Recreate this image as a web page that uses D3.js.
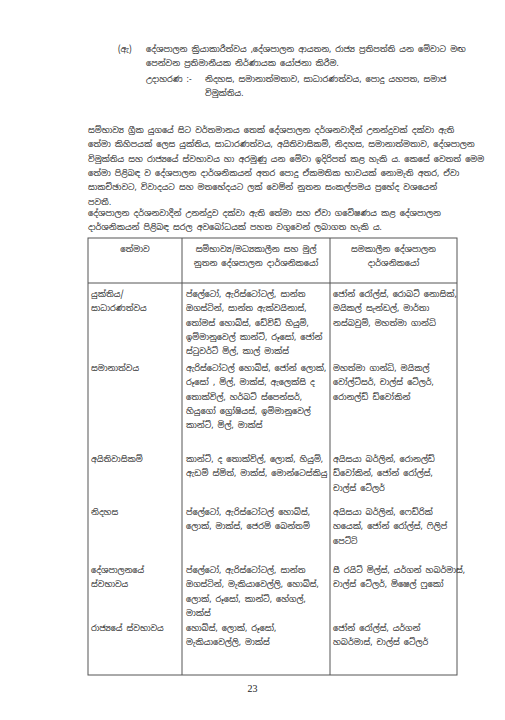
<!DOCTYPE html>
<html>
<head>
<meta charset="utf-8">
<script src="https://cdn.jsdelivr.net/npm/d3@7"></script>
<style>
  body { margin: 0; background: #fff; }
  text { font-family: "Noto Sans Sinhala", "Iskoola Pota", "Noto Sans", "DejaVu Sans", sans-serif; font-size: 8.2px; fill: #222; }
</style>
</head>
<body>
<svg id="page"></svg>
<script>
const introLines = [
  "දේශපාලන ක්‍රියාකාරීත්වය ,දේශපාලන ආයතන, රාජ්‍ය ප්‍රතිපත්ති යන මේවාට මඟ",
  "පෙන්වන ප්‍රතිමානීයක නිර්ණායක යෝජනා කිරීම."
];
const exampleLines = [
  "නිදහස, සමානාත්මතාව, සාධාරණත්වය, පොදු යහපත, සමාජ",
  "විමුක්තිය."
];
const para1 = [
  "සම්භාව්‍ය ග්‍රීක යුගයේ සිට වර්තමානය තෙක් දේශපාලන දර්ශනවාදීන් උනන්දුවක් දක්වා ඇති",
  "තේමා කිහිපයක් ලෙස යුක්තිය, සාධාරණත්වය, අයිතිවාසිකම්, නිදහස, සමානාත්මතාව, දේශපාලන",
  "විමුක්තිය සහ රාජ්‍යයේ ස්වභාවය හා අරමුණු යන මේවා ඉදිරිපත් කළ හැකි ය. කෙසේ වෙතත් මෙම",
  "තේමා පිළිබඳ ව දේශපාලන දාර්ශනිකයන් අතර පොදු ඒකමතික භාවයක් නොමැති අතර, ඒවා",
  "සාකච්ඡාවට, විවාදයට සහ මතභේදයට ලක් වෙමින් නූතන සංකල්පමය ප්‍රභේද වශයෙන්",
  "පවතී."
];
const para2 = [
  "දේශපාලන දර්ශනවාදීන් උනන්දුව දක්වා ඇති තේමා සහ ඒවා ගවේෂණය කළ දේශපාලන",
  "දාර්ශනිකයන් පිළිබඳ සරල අවබෝධයක් පහත වගුවෙන් ලබාගත හැකි ය."
];
const headers = [
  ["තේමාව"],
  ["සම්භාව්‍ය/මධ්‍යකාලීන සහ මුල්", "නූතන දේශපාලන දාර්ශනිකයෝ"],
  ["සමකාලීන දේශපාලන", "දාර්ශනිකයෝ"]
];
const themes = [
  ["යුක්තිය/", "සාධාරණත්වය"],
  ["සමානාත්වය"],
  ["අයිතිවාසිකම්"],
  ["නිදහස"],
  ["දේශපාලනයේ", "ස්වභාවය"],
  ["රාජ්‍යයේ ස්වභාවය"]
];
const classical = [
  ["ප්ලේටෝ, ඇරිස්ටෝටල්, සාන්ත", "ඔගස්ටින්, සාන්ත ඇක්වයිනාස්,", "තෝමස් හොබ්ස්, ඩේවිඩ් හියුම්,", "ඉම්මානුවෙල් කාන්ට්, රූසෝ, ජෝන්", "ස්ටුවර්ට් මිල්, කාල් මාක්ස්"],
  ["ඇරිස්ටෝටල් හොබ්ස්, ජෝන් ලොක්,", "රූසෝ , මිල්, මාක්ස්, ඇලෙක්සි ද", "තොක්විල්, හර්බට් ස්පෙන්සර්,", "හියුගෝ ග්‍රෝෂියස්, ඉම්මානුවෙල්", "කාන්ට්, මිල්, මාක්ස්"],
  ["කාන්ට්, ද තොක්විල්, ලොක්, හියුම්,", "ඇඩම් ස්මිත්, මාක්ස්, මොන්ටෙස්කියු"],
  ["ප්ලේටෝ, ඇරිස්ටෝටල් හොබ්ස්,", "ලොක්, මාක්ස්, ජෙරමි බෙන්තම්"],
  ["ප්ලේටෝ, ඇරිස්ටෝටල්, සාන්ත", "ඔගස්ටින්, මැකියාවෙල්ලි, හොබ්ස්,", "ලොක්, රූසෝ, කාන්ට්, හේගල්,", "මාක්ස්"],
  ["හොබ්ස්, ලොක්, රූසෝ,", "මැකියාවෙල්ලි, මාක්ස්"]
];
const contemporary = [
  ["ජෝන් රෝල්ස්, රොබට් නොසික්,", "මයිකල් සැන්ඩල්, මාර්තා", "නස්බවුම්, මහත්මා ගාන්ධි"],
  ["මහත්මා ගාන්ධි, මයිකල්", "වෝල්ට්සර්, චාල්ස් ටේලර්,", "රොනල්ඩ් ඩ්වෝකින්"],
  ["අයිසයා බර්ලින්, රොනල්ඩ්", "ඩ්වෝකින්, ජෝන් රෝල්ස්,", "චාල්ස් ටේලර්"],
  ["අයිසයා බර්ලින්, ෆෙඩ්රික්", "හයෙක්, ජෝන් රෝල්ස්, ෆිලිප්", "පෙට්ටි"],
  ["සී රයිට් මිල්ස්, යර්ගන් හබර්මාස්,", "චාල්ස් ටේලර්, මිෂෙල් ෆූකෝ"],
  ["ජෝන් රෝල්ස්, යර්ගන්", "හබර්මාස්, චාල්ස් ටේලර්"]
];
const rowTops = [297, 371, 462, 515, 573, 631];
const pageNumber = "23";

const width = 505, height = 720;
const svg = d3.select("#page").attr("width", width).attr("height", height);
const lh = 14.3;

function block(lines, x, y, anchor) {
  svg.append("g").selectAll("text").data(lines).join("text")
    .attr("x", x).attr("y", (_, i) => y + i * lh)
    .attr("text-anchor", anchor || "start")
    .text(d => d);
}

svg.append("text").attr("x", 118).attr("y", 52).text("(ඇ)");
block(introLines, 146, 52);
svg.append("text").attr("x", 146).attr("y", 82).text("උදාහරණ :-");
block(exampleLines, 205, 82);
block(para1, 88, 133);
block(para2, 88, 216);

// table columns
const colX = [88, 182, 330, 457];
const tableTop = 238, headBottom = 283, tableBottom = 675;
const g = svg.append("g").attr("stroke", "#555").attr("stroke-width", 1).attr("fill", "none");
g.append("rect").attr("x", colX[0]).attr("y", tableTop).attr("width", colX[3] - colX[0]).attr("height", tableBottom - tableTop);
g.append("line").attr("x1", colX[0]).attr("x2", colX[3]).attr("y1", headBottom).attr("y2", headBottom);
g.selectAll("line.v").data(colX.slice(1, 3)).join("line").attr("class", "v")
  .attr("x1", d => d).attr("x2", d => d).attr("y1", tableTop).attr("y2", tableBottom);

headers.forEach((h, i) => {
  const cx = (colX[i] + colX[i + 1]) / 2;
  block(h, cx, 252, "middle");
});

rowTops.forEach((y, i) => {
  block(themes[i], colX[0] + 3, y);
  block(classical[i], colX[1] + 4, y);
  block(contemporary[i], colX[2] + 3, y);
});

svg.append("text").attr("x", width / 2).attr("y", 692).attr("text-anchor", "middle")
  .style("font-family", "Liberation Serif, serif").style("font-size", "10px").text(pageNumber);
</script>
</body>
</html>
